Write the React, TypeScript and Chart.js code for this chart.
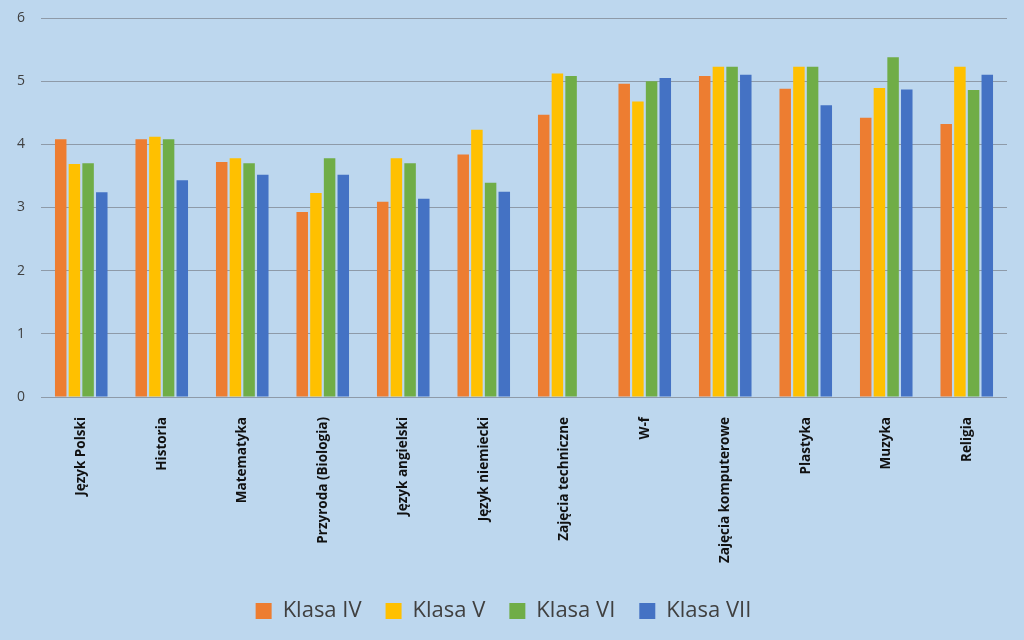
import React, { useEffect, useRef } from "react";
import { Chart, registerables } from "chart.js";

Chart.register(...registerables);

const categories = [
  "Język Polski",
  "Historia",
  "Matematyka",
  "Przyroda (Biologia)",
  "Język angielski",
  "Język niemiecki",
  "Zajęcia techniczne",
  "W-f",
  "Zajęcia komputerowe",
  "Plastyka",
  "Muzyka",
  "Religia",
];

const klasaIV = [4.08, 4.08, 3.72, 2.93, 3.09, 3.84, 4.47, 4.96, 5.08, 4.88, 4.42, 4.32];
const klasaV = [3.69, 4.12, 3.78, 3.23, 3.78, 4.23, 5.12, 4.68, 5.23, 5.23, 4.89, 5.23];
const klasaVI = [3.7, 4.08, 3.7, 3.78, 3.7, 3.39, 5.08, 5.0, 5.23, 5.23, 5.38, 4.86];
const klasaVII = [3.24, 3.43, 3.52, 3.52, 3.14, 3.25, null, 5.05, 5.1, 4.62, 4.87, 5.1];

const seriesNames = ["Klasa IV", "Klasa V", "Klasa VI", "Klasa VII"];
const seriesColors = ["#ED7D31", "#FFC000", "#70AD47", "#4472C4"];

const yTicks = [0, 1, 2, 3, 4, 5, 6];

export default function App() {
  const ref = useRef<HTMLCanvasElement | null>(null);

  useEffect(() => {
    if (!ref.current) return;
    const data = [klasaIV, klasaV, klasaVI, klasaVII];
    const chart = new Chart(ref.current, {
      type: "bar",
      data: {
        labels: categories,
        datasets: data.map((d, i) => ({
          label: seriesNames[i],
          data: d,
          backgroundColor: seriesColors[i],
          borderWidth: 0,
          categoryPercentage: 0.68,
          barPercentage: 0.84,
        })),
      },
      options: {
        animation: false,
        responsive: false,
        maintainAspectRatio: false,
        layout: { padding: { top: 0, right: 17, bottom: 8, left: 0 } },
        plugins: {
          tooltip: { enabled: false },
          title: { display: false },
          legend: {
            position: "bottom",
            labels: {
              boxWidth: 16,
              boxHeight: 16,
              padding: 24,
              color: "#404040",
              font: { family: "'Liberation Sans Narrow', 'Open Sans', sans-serif", size: 22 },
            },
          },
        },
        scales: {
          x: {
            grid: { display: false },
            border: { display: false },
            ticks: {
              autoSkip: false,
              maxRotation: 90,
              minRotation: 90,
              color: "#111111",
              padding: 12,
              font: { family: "'Open Sans', sans-serif", size: 13.5, weight: "bold" },
            },
            afterFit: (scale: any) => {
              scale.height = 179;
            },
          },
          y: {
            min: 0,
            max: 6,
            afterBuildTicks: (scale: any) => {
              scale.ticks = yTicks.map((v) => ({ value: v }));
            },
            grid: { color: "#8E9AA8", lineWidth: 1, drawTicks: false },
            border: { display: false },
            ticks: {
              color: "#404040",
              padding: 16,
              font: { family: "'Open Sans', sans-serif", size: 14 },
            },
            afterFit: (scale: any) => {
              scale.width = 41;
              scale.paddingTop = 18;
              scale.paddingBottom = 0;
            },
          },
        },
      },
    });
    return () => chart.destroy();
  }, []);

  return (
    <div
      style={{
        position: "absolute",
        left: 0,
        top: 0,
        width: 1024,
        height: 640,
        background: "#BDD7EE",
      }}
    >
      <canvas ref={ref} width={1024} height={640} style={{ display: "block" }} />
    </div>
  );
}
